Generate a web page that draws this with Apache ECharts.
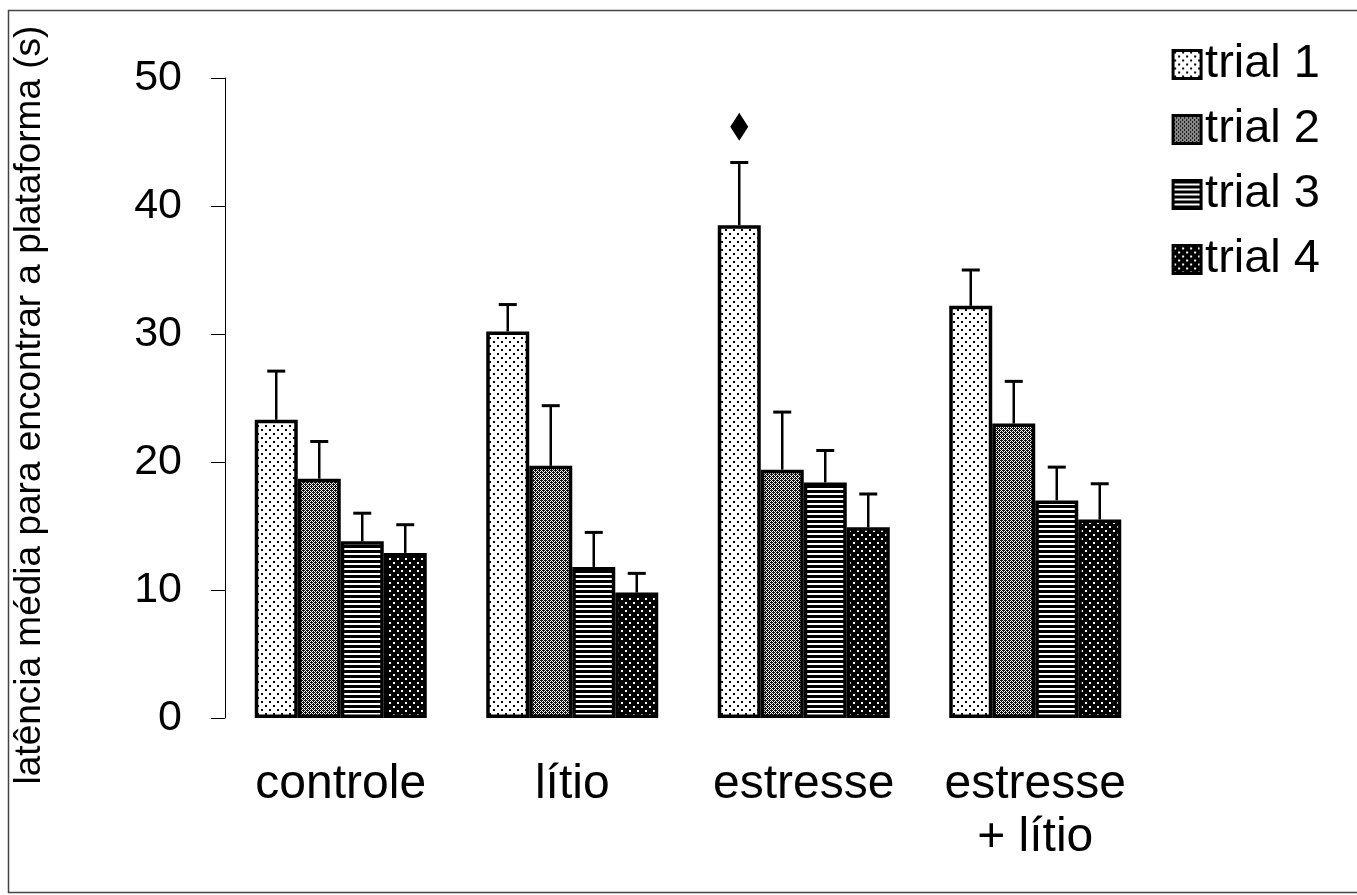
<!DOCTYPE html>
<html>
<head>
<meta charset="utf-8">
<script src="https://cdn.jsdelivr.net/npm/echarts@6/dist/echarts.min.js"></script>
<style>html,body{margin:0;padding:0;background:#fff}#c{width:1357px;height:895px}</style>
</head>
<body>
<div id="c"></div>
<script>
const categories = ['controle', 'lítio', 'estresse', 'estresse\n+ lítio'];
const seriesNames = ['trial 1', 'trial 2', 'trial 3', 'trial 4'];
const trial1 = [23.3, 30.2, 38.5, 32.2];
const trial2 = [18.7, 19.7, 19.4, 23.0];
const trial3 = [13.8, 11.8, 18.4, 17.0];
const trial4 = [12.9, 9.8, 14.9, 15.5];
const trial1Err = [3.8, 2.1, 4.9, 2.8];
const trial2Err = [2.9, 4.7, 4.5, 3.3];
const trial3Err = [2.2, 2.7, 2.5, 2.6];
const trial4Err = [2.2, 1.5, 2.6, 2.8];
const yTicks = [0, 10, 20, 30, 40, 50];
// significance marker: category index, trial index, y value
const markerCat = [2];
const markerTrial = [0];
const markerY = [46.2];

const means = [trial1, trial2, trial3, trial4];
const errs = [trial1Err, trial2Err, trial3Err, trial4Err];
const FONT = 'Liberation Sans, Arial, sans-serif';

function makePattern(w, h, bg, fg, pts) {
  const c = document.createElement('canvas');
  c.width = w; c.height = h;
  const g = c.getContext('2d');
  g.fillStyle = bg; g.fillRect(0, 0, w, h);
  g.fillStyle = fg;
  pts.forEach(p => g.fillRect(p[0], p[1], p[2] || 2, p[3] || 2));
  return { image: c, repeat: 'repeat' };
}
const p1 = makePattern(8, 8, '#ffffff', '#000000', [[1, 1], [5, 5]]);
const p2pts = [];
for (let y = 0; y < 4; y++) for (let x = 0; x < 4; x++) {
  if ((x + y) % 2 === 0 || (x === 1 && y === 0) || (x === 3 && y === 2)) p2pts.push([x, y, 1, 1]);
}
const p2 = makePattern(4, 4, '#ffffff', '#111111', p2pts);
const p3 = makePattern(4, 5, '#ffffff', '#000000', [[0, 0, 4, 3]]);
const p4 = makePattern(8, 8, '#000000', '#ffffff', [[1, 2], [5, 6]]);
const patterns = [p1, p2, p3, p4];

const BAR_FRAC = 0.743;

const errData = [];
for (let s = 0; s < 4; s++) for (let c = 0; c < 4; c++) {
  errData.push([c, s, means[s][c], errs[s][c]]);
}
const markData = markerCat.map((c, i) => [c, markerTrial[i], markerY[i]]);

function barCenter(api, cat, trial) {
  const bw = api.size([1, 0])[0];
  const w = bw * BAR_FRAC / 4;
  const cx = api.coord([cat, 0])[0];
  return cx - 2 * w + (trial + 0.5) * w;
}

const series = seriesNames.map((n, s) => ({
  name: n,
  type: 'bar',
  data: means[s],
  barGap: '0%',
  barCategoryGap: ((1 - BAR_FRAC) * 100).toFixed(1) + '%',
  itemStyle: { color: patterns[s], borderColor: '#000', borderWidth: 3.5 },
  z: 2
}));

series.push({
  type: 'custom',
  name: 'err',
  data: errData,
  z: 3,
  renderItem: function (params, api) {
    const cat = api.value(0), tr = api.value(1), m = api.value(2), e = api.value(3);
    const x = barCenter(api, cat, tr);
    const y0 = api.coord([cat, m])[1];
    const y1 = api.coord([cat, m + e])[1];
    return {
      type: 'group',
      children: [
        { type: 'line', shape: { x1: x, y1: y0, x2: x, y2: y1 }, style: { stroke: '#000', lineWidth: 2.5 } },
        { type: 'line', shape: { x1: x - 9, y1: y1, x2: x + 9, y2: y1 }, style: { stroke: '#000', lineWidth: 3 } }
      ]
    };
  }
});

series.push({
  type: 'custom',
  name: 'mark',
  data: markData,
  z: 4,
  renderItem: function (params, api) {
    const cat = api.value(0), tr = api.value(1), v = api.value(2);
    const x = barCenter(api, cat, tr);
    const y = api.coord([cat, v])[1];
    return {
      type: 'polygon',
      shape: { points: [[x, y - 14], [x + 9, y], [x, y + 14], [x - 9, y]] },
      style: { fill: '#000' }
    };
  }
});

const chart = echarts.init(document.getElementById('c'), null, { renderer: 'canvas' });
chart.setOption({
  animation: false,
  backgroundColor: '#fff',
  textStyle: { fontFamily: FONT },
  graphic: [{
    type: 'rect', shape: { x: 8.5, y: 10.5, width: 1360, height: 882 },
    style: { fill: 'none', stroke: '#444', lineWidth: 1.5 }, z: 0, silent: true
  }],
  grid: { left: 225, right: 206, top: 78, bottom: 177, containLabel: false },
  legend: {
    data: seriesNames,
    orient: 'vertical',
    right: 32,
    top: 36,
    itemWidth: 28,
    itemHeight: 28,
    itemGap: 18,
    icon: 'rect',
    textStyle: { fontSize: 47, color: '#000', fontFamily: FONT, padding: [0, 0, 0, -1] },
    itemStyle: { borderColor: '#000', borderWidth: 3 }
  },
  xAxis: {
    type: 'category',
    data: categories,
    axisLine: { show: false },
    axisTick: { show: false },
    axisLabel: { interval: 0, color: '#000', fontSize: 48, margin: 40, lineHeight: 53, fontFamily: FONT }
  },
  yAxis: {
    type: 'value',
    min: 0, max: 50, interval: 10,
    name: 'latência média para encontrar a plataforma (s)',
    nameLocation: 'middle',
    nameGap: 177,
    nameTextStyle: { fontSize: 37, color: '#000', fontFamily: FONT, padding: [0, 0, 0, -14] },
    axisLine: { show: true, lineStyle: { color: '#000', width: 1 } },
    axisTick: { show: true, inside: false, length: 14, lineStyle: { color: '#000', width: 1 } },
    axisLabel: {
      color: '#000', fontSize: 43, margin: 43,
      fontFamily: FONT,
      formatter: v => (yTicks.indexOf(v) >= 0 ? String(v) : '')
    },
    splitLine: { show: false }
  },
  series: series
});
</script>
</body>
</html>
